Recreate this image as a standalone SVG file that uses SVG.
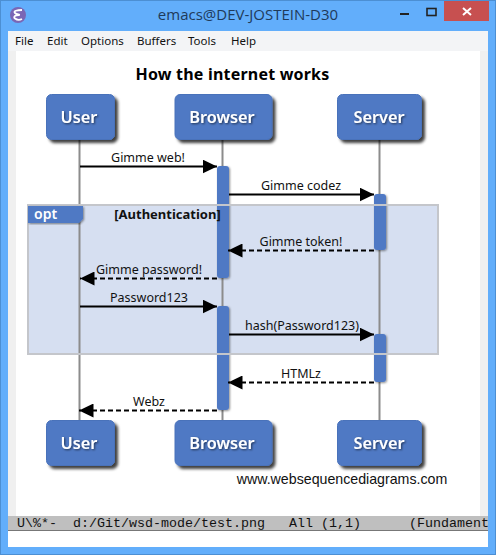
<svg xmlns="http://www.w3.org/2000/svg" width="496" height="555" viewBox="0 0 496 555">
<style>
.box{fill:#4f79c4;stroke:#4a72ba;stroke-width:1;filter:url(#sh)}
.nt{font:600 16.300px "Noto Sans",sans-serif;fill:#fff;text-anchor:middle;filter:url(#ts)}
.life{stroke:#8c8c8c;stroke-width:2;fill:none}
.bar{fill:#4f79c4;filter:url(#bs)}
.sol{stroke:#000;stroke-width:1.800;fill:none;marker-end:url(#ah)}
.das{stroke:#000;stroke-width:2;fill:none;stroke-dasharray:5 3;marker-end:url(#ah)}
.lb{font:12.500px "Noto Sans",sans-serif;fill:#111;text-anchor:middle}
.menu{font:11.500px "Noto Sans",sans-serif;fill:#111}
.ml{font:13.330px "Liberation Mono",monospace;fill:#111;white-space:pre}
</style>
<defs>
<filter id="sh" x="-20%" y="-20%" width="150%" height="150%"><feDropShadow dx="3" dy="3" stdDeviation="1.800" flood-color="#000" flood-opacity=".75"/></filter>
<filter id="bs" x="-50%" y="-10%" width="200%" height="120%"><feDropShadow dx="1" dy="1" stdDeviation="1" flood-color="#000" flood-opacity=".45"/></filter>
<filter id="ts" x="-20%" y="-30%" width="140%" height="170%"><feDropShadow dx="1" dy="1" stdDeviation="1" flood-color="#000" flood-opacity=".6"/></filter>
<marker id="ah" markerUnits="userSpaceOnUse" markerWidth="15" markerHeight="14" refX="14.500" refY="7" orient="auto"><path d="M0 0L14.500 7L0 14z" fill="#000"/></marker>
<clipPath id="mlc"><rect x="8" y="516" width="481" height="15"/></clipPath>
</defs>

<g id="window">
<rect x="0" y="0" width="496" height="555" fill="#62aefb"/>
<rect x="0.500" y="0.500" width="495" height="554" fill="none" stroke="#4c8fd3"/>
<rect x="444" y="1" width="45" height="20" fill="#c75050"/>
<path d="M463 8L471 15M471 8L463 15" stroke="#fff" stroke-width="2" fill="none"/>
<rect x="400" y="13" width="9" height="2" fill="#222"/>
<rect x="427" y="8.500" width="9" height="7" fill="none" stroke="#222" stroke-width="1.600"/>
<circle cx="18" cy="15" r="8" fill="#7a66b5"/>
<path d="M22 10C17 10 13 11 15 13C17 15 20 14 19 15C15 15 13 17 15 18.500C17 20 20 20 22 19" fill="none" stroke="#fff" stroke-width="1.800"/>
<text x="248" y="20" font-family="Open Sans,sans-serif" font-size="15" fill="#1f3a5a" text-anchor="middle">emacs@DEV-JOSTEIN-D30</text>
<rect x="8" y="31" width="480" height="516" fill="#fff"/>
<rect x="8" y="31" width="480" height="20" fill="#f3f4f6"/>
<rect x="8" y="51" width="8" height="465" fill="#f0f0f0"/>
<rect x="480" y="51" width="8" height="465" fill="#f0f0f0"/>
<text class="menu" x="15" y="45">File</text>
<text class="menu" x="47" y="45">Edit</text>
<text class="menu" x="81" y="45">Options</text>
<text class="menu" x="137" y="45">Buffers</text>
<text class="menu" x="188" y="45">Tools</text>
<text class="menu" x="231" y="45">Help</text>
</g>

<text x="232.500" y="80" font-family="Noto Sans,sans-serif" font-size="16" font-weight="700" letter-spacing=".2" fill="#000" text-anchor="middle">How the internet works</text>

<rect id="frame-fill" x="28" y="205" width="410" height="149" fill="#d6dff1"/>

<g id="connectors">
<path class="life" d="M79.500 140V420"/>
<path class="life" d="M222.500 140V420"/>
<path class="life" d="M379.500 140V420"/>
</g>

<g id="activations">
<rect class="bar" x="217" y="166" width="12" height="112" rx="3"/>
<rect class="bar" x="217" y="306" width="12" height="104" rx="3"/>
<rect class="bar" x="374" y="194" width="12" height="56" rx="3"/>
<rect class="bar" x="374" y="334" width="12" height="48" rx="3"/>
</g>

<g id="frame">
<rect x="28" y="205" width="410" height="149" fill="none" stroke="#c4c6cb" stroke-width="2"/>
<path d="M28 206H83V219L79 223H28z" fill="#4f79c4" filter="url(#bs)"/>
<text x="34" y="219" font-family="Noto Sans,sans-serif" font-size="14" font-weight="600" fill="#fff">opt</text>
<text x="167.500" y="219" font-family="Noto Sans,sans-serif" font-size="13" font-weight="700" fill="#111" text-anchor="middle">[Authentication]</text>
</g>

<g id="messages">
<path class="sol" d="M80 166.500H217"/>
<text class="lb" x="148" y="162">Gimme web!</text>
<path class="sol" d="M229 194.500H374"/>
<text class="lb" x="301" y="190">Gimme codez</text>
<path class="das" d="M374 250.500H228"/>
<text class="lb" x="301" y="246">Gimme token!</text>
<path class="das" d="M217 278.500H80"/>
<text class="lb" x="149" y="274">Gimme password!</text>
<path class="sol" d="M80 306.500H217"/>
<text class="lb" x="149" y="302">Password123</text>
<path class="sol" d="M229 334.500H374"/>
<text class="lb" x="302" y="330">hash(Password123)</text>
<path class="das" d="M374 382.500H228"/>
<text class="lb" x="301" y="378">HTMLz</text>
<path class="das" d="M217 410.500H79"/>
<text class="lb" x="149" y="406">Webz</text>
</g>

<g id="user-top"><rect class="box" x="46.500" y="94.500" width="68" height="45" rx="5"/><text class="nt" x="79" y="123">User</text></g>
<g id="browser-top"><rect class="box" x="175" y="94.500" width="97" height="45" rx="5"/><text class="nt" x="222" y="123">Browser</text></g>
<g id="server-top"><rect class="box" x="337.500" y="94.500" width="84" height="45" rx="5"/><text class="nt" x="379" y="123">Server</text></g>
<g id="user-bottom"><rect class="box" x="46.500" y="420.500" width="68" height="45" rx="5"/><text class="nt" x="79" y="449">User</text></g>
<g id="browser-bottom"><rect class="box" x="175" y="420.500" width="97" height="45" rx="5"/><text class="nt" x="222" y="449">Browser</text></g>
<g id="server-bottom"><rect class="box" x="337.500" y="420.500" width="84" height="45" rx="5"/><text class="nt" x="379" y="449">Server</text></g>

<text x="342" y="484" font-family="Liberation Sans,sans-serif" font-size="14.200" fill="#111" text-anchor="middle">www.websequencediagrams.com</text>

<g id="modeline">
<rect x="8" y="516" width="480" height="14" fill="#bfbfbf"/>
<rect x="8" y="530" width="480" height="1" fill="#777"/>
<text class="ml" x="17" y="527" clip-path="url(#mlc)">U\%*-  d:/Git/wsd-mode/test.png   All (1,1)      (Fundament</text>
</g>
</svg>
